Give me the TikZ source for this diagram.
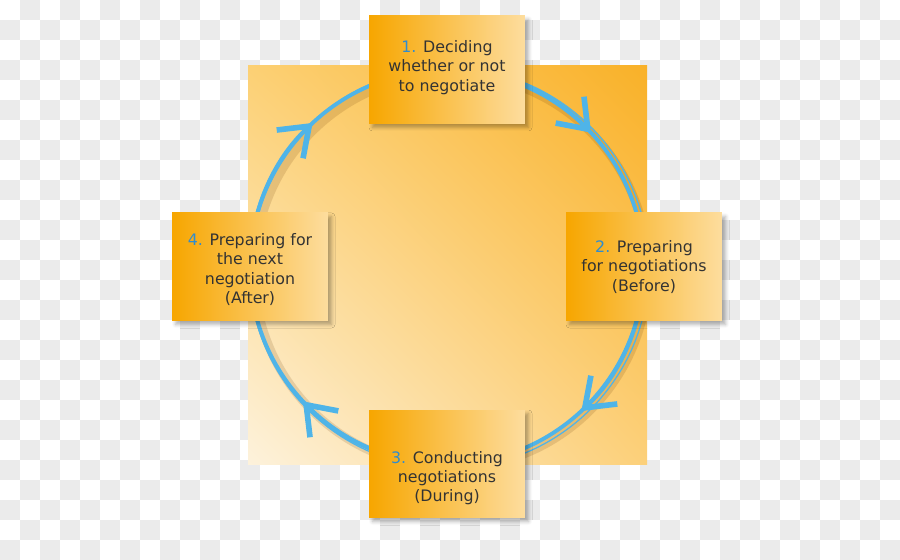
\documentclass[tikz,border=0pt]{standalone}
\usepackage{fontspec}
\setmainfont{DejaVu Sans}
\usepackage{xcolor}
\usetikzlibrary{arrows.meta,shadows.blur,shadings}
\definecolor{cyclblue}{HTML}{4FB4E8}
\definecolor{cyclnum}{HTML}{2F8CCF}
\definecolor{cyclgray}{HTML}{333333}
\definecolor{cyclorange}{HTML}{F7A600}
\definecolor{cycllight}{HTML}{FDDD9E}
\definecolor{checkgray}{HTML}{EBEBEB}
\definecolor{sqtl}{HTML}{FCD074}
\definecolor{sqtr}{HTML}{F9B128}
\definecolor{sqbl}{HTML}{FDF2DC}
\definecolor{sqbr}{HTML}{FCD07A}
\tikzset{
  cyclbox/.style={minimum width=3.12cm, minimum height=2.16cm, inner sep=0pt,
    left color=cyclorange, right color=cycllight,
    blur shadow={shadow xshift=2pt, shadow yshift=-2pt, shadow blur radius=2pt, shadow blur extra rounding=0pt, shadow opacity=30}},
  cycltext/.style={align=center, text=cyclgray, font=\fontsize{9}{11}\selectfont},
  cyclflow/.style={draw=cyclblue, line width=2.2pt, line cap=round},
  cyclthin/.style={draw=cyclblue, line width=0.7pt},
  cyclshadow/.style={draw=black!60!orange, line width=5pt, opacity=0.15},
  cycltip/.style={-{Straight Barb[length=15pt, width=22pt, line width=3.2pt]}},
}

\begin{document}
\begin{tikzpicture}[x=0.02cm, y=0.02cm]
\useasboundingbox (0,0) rectangle (900,560);
% checker backdrop
\foreach \i in {0,...,44}{
  \foreach \j in {0,...,27}{
    \ifodd\numexpr\i+\j\relax
      \fill[checkgray] (20*\i,540-20*\j) rectangle ++(20,20);
    \fi
  }
}
\shade[upper left=sqtl, upper right=sqtr, lower left=sqbl, lower right=sqbr] (248,95) rectangle (647,494);

\coordinate (hub) at (447,293);
\foreach \n/\a in {decide/90, before/0, during/-90, after/180}
  \coordinate (\n) at ([shift={(\a:197)}]hub);

% cycle
\draw[cyclshadow] ([shift={(4,-4)}]hub) circle[radius=3.94cm];
\draw[cyclflow] (hub) circle[radius=3.94cm];
\draw[cyclthin] ([shift={(2,-1)}]hub) circle[radius=4.0cm];
\foreach \n/\a in {decide/90, before/0, during/-90, after/180}
  \draw[cyclflow, cycltip] (\n) arc[start angle=\a, end angle=\a-47, radius=3.94cm];

% steps
\node[cyclbox] (decidebox) at (decide) {};
\node[cyclbox] (beforebox) at (before) {};
\node[cyclbox] (duringbox) at (during) {};
\node[cyclbox] (afterbox) at (after) {};
\node[cycltext] (decidetxt) at ([yshift=1.5]decidebox) {{\color{cyclnum}1.} Deciding\\whether or not\\to negotiate};
\node[cycltext] (beforetxt) at ([yshift=0]beforebox) {{\color{cyclnum}2.} Preparing\\for negotiations\\(Before)};
\node[cycltext] (duringtxt) at ([yshift=-8]duringbox) {{\color{cyclnum}3.} Conducting\\negotiations\\(During)};
\node[cycltext] (aftertxt) at ([yshift=-1.5]afterbox) {{\color{cyclnum}4.} Preparing for\\the next\\negotiation\\(After)};
\end{tikzpicture}
\end{document}
